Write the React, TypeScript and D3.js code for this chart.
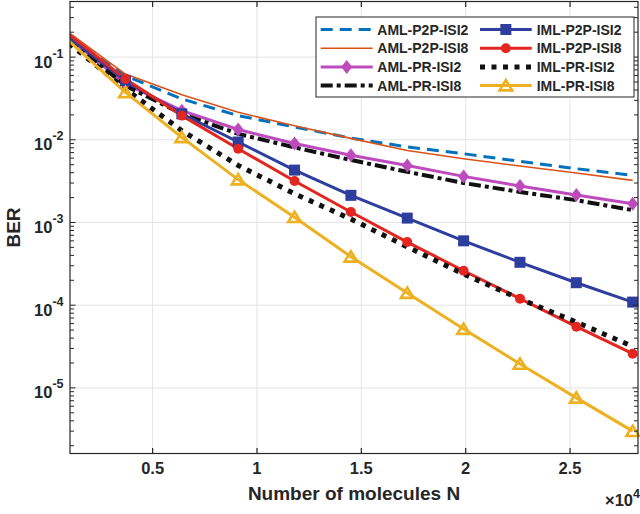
import React from 'react';
import * as d3 from 'd3';

const moleculesN = [1000, 3700, 6400, 9100, 11800, 14500, 17200, 19900, 22600, 25300, 28000];

const amlP2pIsi2 = [0.176, 0.0596, 0.0312, 0.0196, 0.0143, 0.0105, 0.0082, 0.00678, 0.00548, 0.00447, 0.00371];
const amlP2pIsi8 = [0.197, 0.0624, 0.0351, 0.0215, 0.0148, 0.0104, 0.00743, 0.0059, 0.00481, 0.00396, 0.00323];
const amlPrIsi2 = [0.168, 0.0473, 0.0225, 0.0133, 0.009, 0.0065, 0.0049, 0.00361, 0.00276, 0.00215, 0.00169];
const amlPrIsi8 = [0.164, 0.0451, 0.0206, 0.0118, 0.0081, 0.0057, 0.0041, 0.003, 0.00234, 0.00186, 0.00141];
const imlP2pIsi2 = [0.172, 0.0518, 0.0206, 0.0094, 0.0043, 0.00213, 0.00113, 0.0006, 0.00033, 0.000187, 0.000109];
const imlP2pIsi8 = [0.187, 0.0543, 0.0196, 0.0078, 0.00317, 0.00134, 0.00058, 0.000261, 0.00012, 0.000055, 0.0000259];
const imlPrIsi2 = [0.146, 0.0411, 0.0129, 0.0049, 0.00223, 0.0011, 0.000508, 0.000238, 0.000119, 0.0000624, 0.0000317];
const imlPrIsi8 = [0.156, 0.0374, 0.0107, 0.0033, 0.00116, 0.000385, 0.00014, 0.0000514, 0.0000195, 0.00000758, 0.000003];

const seriesNames = [
  'AML-P2P-ISI2', 'AML-P2P-ISI8', 'AML-PR-ISI2', 'AML-PR-ISI8',
  'IML-P2P-ISI2', 'IML-P2P-ISI8', 'IML-PR-ISI2', 'IML-PR-ISI8',
];
const seriesValues = [amlP2pIsi2, amlP2pIsi8, amlPrIsi2, amlPrIsi8, imlP2pIsi2, imlP2pIsi8, imlPrIsi2, imlPrIsi8];

const xTicks = [5000, 10000, 15000, 20000, 25000];
const xTickLabels = ['0.5', '1', '1.5', '2', '2.5'];
const yTickExponents = [-1, -2, -3, -4, -5];

type Style = { color: string; width: number; dash?: string; marker?: string };
const styles: Style[] = [
  { color: '#0072BD', width: 3, dash: '12,7' },
  { color: '#D95319', width: 1.6 },
  { color: '#BE4BBE', width: 3, marker: 'diamond' },
  { color: '#111111', width: 4, dash: '12,4,4,4' },
  { color: '#2D3E9E', width: 3, marker: 'square' },
  { color: '#E3261F', width: 3, marker: 'circle' },
  { color: '#111111', width: 5, dash: '5,6.5' },
  { color: '#EDB120', width: 3, marker: 'triangle' },
];

const FONT = '"Liberation Sans", Arial, Helvetica, sans-serif';
const TXT = '#262626';

const L = 70, R = 638, T = 1.5, B = 453.5;

function Marker({ kind, cx, cy, color }: { kind?: string; cx: number; cy: number; color: string }) {
  if (!kind) return null;
  if (kind === 'square') return <rect x={cx - 5.5} y={cy - 5.5} width={11} height={11} fill={color} />;
  if (kind === 'circle') return <circle cx={cx} cy={cy} r={5} fill={color} />;
  if (kind === 'diamond')
    return <path d={`M${cx},${cy - 7} L${cx + 5.5},${cy} L${cx},${cy + 7} L${cx - 5.5},${cy} Z`} fill={color} />;
  if (kind === 'triangle')
    return (
      <path
        d={`M${cx},${cy - 5.5} L${cx + 6.3},${cy + 4.8} L${cx - 6.3},${cy + 4.8} Z`}
        fill="none"
        stroke={color}
        strokeWidth={2.6}
        strokeLinejoin="miter"
      />
    );
  return null;
}

export default function App() {
  const x = d3.scaleLinear().domain([1043, 28254]).range([L, R]);
  const y = d3.scaleLog().domain([1.61e-6, 0.47]).range([B, T]);
  const [xMin, xMax] = x.domain();

  const line = d3
    .line<[number, number]>()
    .x((d) => x(d[0]))
    .y((d) => y(d[1]));

  const minorY: number[] = [];
  for (let e = -6; e <= -1; e++) {
    for (let m = 1; m <= 9; m++) {
      const v = m * Math.pow(10, e);
      const [d0, d1] = y.domain();
      if (v >= d0 && v <= d1) minorY.push(v);
    }
  }

  const legendRowY = [29.5, 48.2, 66.9, 85.6];
  const legendCols = [
    { x1: 320.7, x2: 372.7, tx: 377.3 },
    { x1: 480, x2: 531.7, tx: 536.7 },
  ];

  return (
    <svg width={640} height={514} style={{ display: 'block', position: 'absolute', left: 0, top: 0 }}>
      <rect x={0} y={0} width={640} height={514} fill="#ffffff" />
      <defs>
        <clipPath id="plotclip">
          <rect x={L} y={T} width={R - L} height={B - T} />
        </clipPath>
      </defs>
      {/* grid */}
      {xTicks.map((t) => (
        <line key={'gx' + t} x1={x(t)} x2={x(t)} y1={T} y2={B} stroke="#E4E4E4" strokeWidth={1} />
      ))}
      {yTickExponents.map((e) => (
        <line key={'gy' + e} x1={L} x2={R} y1={y(Math.pow(10, e))} y2={y(Math.pow(10, e))} stroke="#E4E4E4" strokeWidth={1} />
      ))}
      {/* series */}
      <g clipPath="url(#plotclip)">
        {seriesValues.map((vals, i) => {
          const st = styles[i];
          const pts = moleculesN.map((n, k) => [n, vals[k]] as [number, number]);
          return (
            <path
              key={'s' + i}
              d={line(pts) || ''}
              fill="none"
              stroke={st.color}
              strokeWidth={st.width}
              strokeDasharray={st.dash}
              strokeLinejoin="round"
            />
          );
        })}
      </g>
      {seriesValues.map((vals, i) => {
        const st = styles[i];
        if (!st.marker) return null;
        return (
          <g key={'m' + i}>
            {moleculesN.map((n, k) =>
              n >= xMin && n <= xMax ? (
                <Marker key={k} kind={st.marker} cx={x(n)} cy={y(vals[k])} color={st.color} />
              ) : null
            )}
          </g>
        );
      })}
      {/* axes box */}
      <rect x={L} y={T} width={R - L} height={B - T} fill="none" stroke={TXT} strokeWidth={1.2} />
      {/* x ticks */}
      {xTicks.map((t) => (
        <g key={'xt' + t}>
          <line x1={x(t)} x2={x(t)} y1={B} y2={B - 5.5} stroke={TXT} strokeWidth={1.2} />
          <line x1={x(t)} x2={x(t)} y1={T} y2={T + 5.5} stroke={TXT} strokeWidth={1.2} />
        </g>
      ))}
      {/* y ticks */}
      {minorY.map((v, i) => {
        const major = yTickExponents.some((e) => Math.abs(v - Math.pow(10, e)) < 1e-12);
        const len = major ? 5.5 : 4;
        return (
          <g key={'yt' + i}>
            <line x1={L} x2={L + len} y1={y(v)} y2={y(v)} stroke={TXT} strokeWidth={1} />
            <line x1={R} x2={R - len} y1={y(v)} y2={y(v)} stroke={TXT} strokeWidth={1} />
          </g>
        );
      })}
      {/* x tick labels */}
      {xTicks.map((t, i) => (
        <text
          key={'xl' + t}
          x={x(t)}
          y={474}
          textAnchor="middle"
          fontFamily={FONT}
          fontWeight="bold"
          fontSize={16.5}
          fill={TXT}
        >
          {xTickLabels[i]}
        </text>
      ))}
      {/* y tick labels */}
      {yTickExponents.map((e) => (
        <text
          key={'yl' + e}
          x={63.5}
          y={y(Math.pow(10, e)) + 10.5}
          textAnchor="end"
          fontFamily={FONT}
          fontWeight="bold"
          fontSize={16.5}
          fill={TXT}
        >
          10
          <tspan dy={-10} fontSize={12.5}>
            {String(e)}
          </tspan>
        </text>
      ))}
      {/* axis titles */}
      <text
        x={(L + R) / 2}
        y={500}
        textAnchor="middle"
        fontFamily={FONT}
        fontWeight="bold"
        fontSize={19}
        fill={TXT}
      >
        Number of molecules N
      </text>
      <text
        x={640}
        y={506}
        textAnchor="end"
        fontFamily={FONT}
        fontWeight="bold"
        fontSize={16.5}
        fill={TXT}
      >
        ×10
        <tspan dy={-8} fontSize={12.5}>
          4
        </tspan>
      </text>
      <text
        transform={`translate(20,${(T + B) / 2}) rotate(-90)`}
        textAnchor="middle"
        fontFamily={FONT}
        fontWeight="bold"
        fontSize={19}
        fill={TXT}
      >
        BER
      </text>
      {/* legend */}
      <rect x={316} y={17} width={318} height={80} fill="#ffffff" stroke={TXT} strokeWidth={1} />
      {seriesNames.map((name, i) => {
        const col = legendCols[i < 4 ? 0 : 1];
        const ry = legendRowY[i % 4];
        const st = styles[i];
        return (
          <g key={'lg' + i}>
            <line
              x1={col.x1}
              x2={col.x2}
              y1={ry}
              y2={ry}
              stroke={st.color}
              strokeWidth={st.width}
              strokeDasharray={st.dash}
            />
            <Marker kind={st.marker} cx={(col.x1 + col.x2) / 2} cy={ry} color={st.color} />
            <text
              x={col.tx}
              y={ry + 5}
              fontFamily={FONT}
              fontWeight="bold"
              fontSize={14}
              fill={TXT}
            >
              {name}
            </text>
          </g>
        );
      })}
    </svg>
  );
}
